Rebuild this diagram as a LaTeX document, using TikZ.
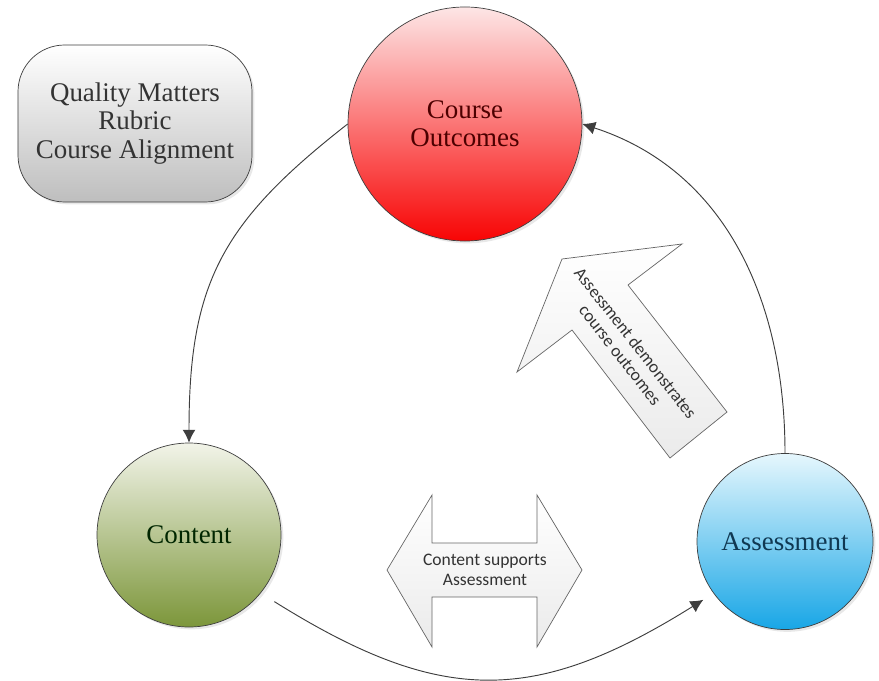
\documentclass[tikz,border=0pt]{standalone}
\usepackage{xcolor}
\usepackage{fontspec}
\setmainfont{Liberation Serif}
\newfontfamily\calibri{Carlito}
\usepackage{tikz}
\usetikzlibrary{arrows.meta, shadows}
\definecolor{rojo}{RGB}{248, 4, 4}
\definecolor{rosa}{RGB}{253, 230, 230}
\definecolor{verde}{RGB}{124, 150, 58}
\definecolor{verdeclaro}{RGB}{242, 244, 233}
\definecolor{azul}{RGB}{24, 166, 230}
\definecolor{celeste}{RGB}{230, 247, 253}
\definecolor{gris}{RGB}{190, 190, 190}
\definecolor{oscuro}{RGB}{62, 62, 62}
\definecolor{tinta}{RGB}{16, 56, 82}
\tikzset{
    bola/.style={circle, draw=oscuro, line width=0.6pt, inner sep=0pt, align=center,
        font=\fontsize{23}{24}\selectfont,
        drop shadow={opacity=0.18, shadow xshift=0.7mm, shadow yshift=-0.7mm}},
    caja/.style={rectangle, rounded corners=1.4cm, draw=oscuro, line width=0.6pt, align=center,
        top color=white, bottom color=gris, text=black!80,
        minimum width=7.02cm, minimum height=4.71cm, font=\fontsize{23}{24}\selectfont,
        drop shadow={opacity=0.18, shadow xshift=0.7mm, shadow yshift=-0.7mm}},
    bloque/.style={draw=black!60, line width=0.6pt, top color=white, bottom color=black!8},
    rotulo/.style={align=center, text=black!80, font=\calibri\fontsize{15}{16.5}\selectfont},
    conn/.style={oscuro, line width=0.8pt, -{Latex[length=11pt, width=11pt]}},
}

\begin{document}
\begin{tikzpicture}[x=0.03cm, y=0.03cm]
    \useasboundingbox (0,0) rectangle (879,-680);

    \node [caja] (qm) at (135,-123.5) {Quality Matters\\Rubric\\Course Alignment};

    \node [bola, minimum size=7.02cm, top color=rosa, bottom color=rojo, text=red!30!black]
        (outc) at (465,-124) {Course\\Outcomes};
    \node [bola, minimum size=5.52cm, top color=verdeclaro, bottom color=verde, text=black!85!green]
        (cont) at (189,-535) {Content};
    \node [bola, minimum size=5.28cm, top color=celeste, bottom color=azul, text=tinta]
        (asse) at (785,-541.5) {Assessment};

    % ciclo
    \draw[conn] (outc.west) to[out=218, in=90, looseness=1.15] (cont.north);
    \draw[conn, shorten <=0.48cm, shorten >=0.36cm]
        (cont.-39) to[out=-32, in=212, looseness=1.2] (asse.216);
    \draw[conn] (asse.north) to[out=90, in=-18] (outc.east);

    % flechas gruesas
    \draw[bloque] (387,-570) -- (432,-495) -- (432,-543) -- (537,-543) -- (537,-495)
        -- (582,-570) -- (537,-647) -- (537,-597) -- (432,-597) -- (432,-647) -- cycle;
    \node [rotulo] (sup) at (485,-570) {Content supports\\Assessment};

    \draw[bloque] (562,-259) -- (682,-244) -- (628,-285) -- (727,-412) -- (670,-458)
        -- (572,-330) -- (517,-372) -- cycle;
    \node [rotulo, rotate=-52] (dem) at (628,-349) {Assessment demonstrates\\course outcomes};
\end{tikzpicture}
\end{document}
